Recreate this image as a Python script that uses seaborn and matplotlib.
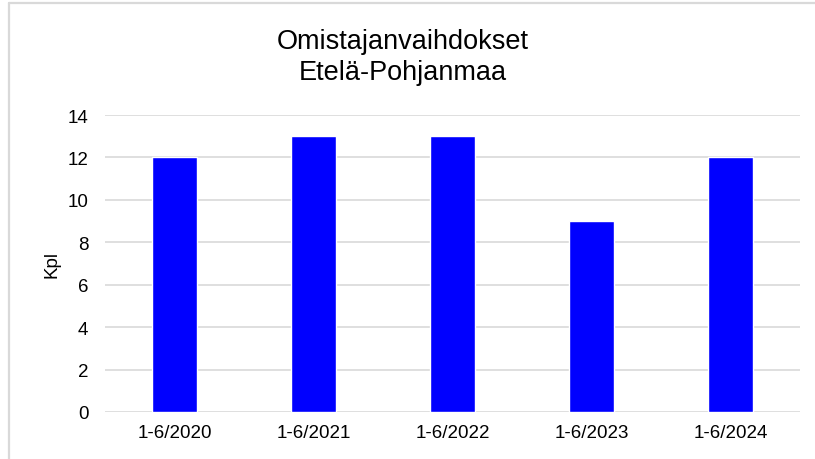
import matplotlib
matplotlib.use("Agg")
import matplotlib.pyplot as plt
import seaborn as sns
import pandas as pd
from matplotlib.lines import Line2D

categories = ["1-6/2020", "1-6/2021", "1-6/2022", "1-6/2023", "1-6/2024"]
values = [12, 13, 13, 9, 12]
yticks = [0, 2, 4, 6, 8, 10, 12, 14]
title_lines = ["Omistajanvaihdokset", "Etelä-Pohjanmaa"]

sns.set_theme(style="white")
plt.rcParams['font.family'] = ['Liberation Sans', 'DejaVu Sans']
plt.rcParams['text.color'] = 'black'

df = pd.DataFrame({"cat": categories, "val": values})

fig = plt.figure(figsize=(8.15, 4.6), dpi=100)
ax = fig.add_axes([105/815, 1 - 413/460, 695/815, 297/460])
sns.barplot(data=df, x="cat", y="val", color="#0000FF", saturation=1, width=0.32, ax=ax, zorder=3)

ax.set_ylim(0, 14)
ax.set_xlim(-0.5, 4.5)
ax.set_yticks(yticks)
ax.yaxis.grid(True, color="#d9d9d9", linewidth=1.2, zorder=0)
ax.set_axisbelow(True)
for s in ax.spines.values():
    s.set_visible(False)
ax.tick_params(axis="both", length=0, labelsize=13.5, colors="#000000")
ax.tick_params(axis="y", pad=12)
ax.tick_params(axis="x", pad=9)
ax.set_xlabel("")
ax.set_ylabel("Kpl", fontsize=13.5, labelpad=5, color="black")

fig.text(403/815, 1 - 42/460, title_lines[0], ha="center", va="center", fontsize=19.5, color="black")
fig.text(403/815, 1 - 73/460, title_lines[1], ha="center", va="center", fontsize=19.5, color="black")

# outer border (left and top)
fig.add_artist(Line2D([8.5/815, 8.5/815], [0, 1 - 3.5/460], transform=fig.transFigure, color="#d9d9d9", linewidth=1.6))
fig.add_artist(Line2D([8.5/815, 1], [1 - 3.5/460, 1 - 3.5/460], transform=fig.transFigure, color="#d9d9d9", linewidth=1.6))

fig.savefig("out.png", dpi=100)
